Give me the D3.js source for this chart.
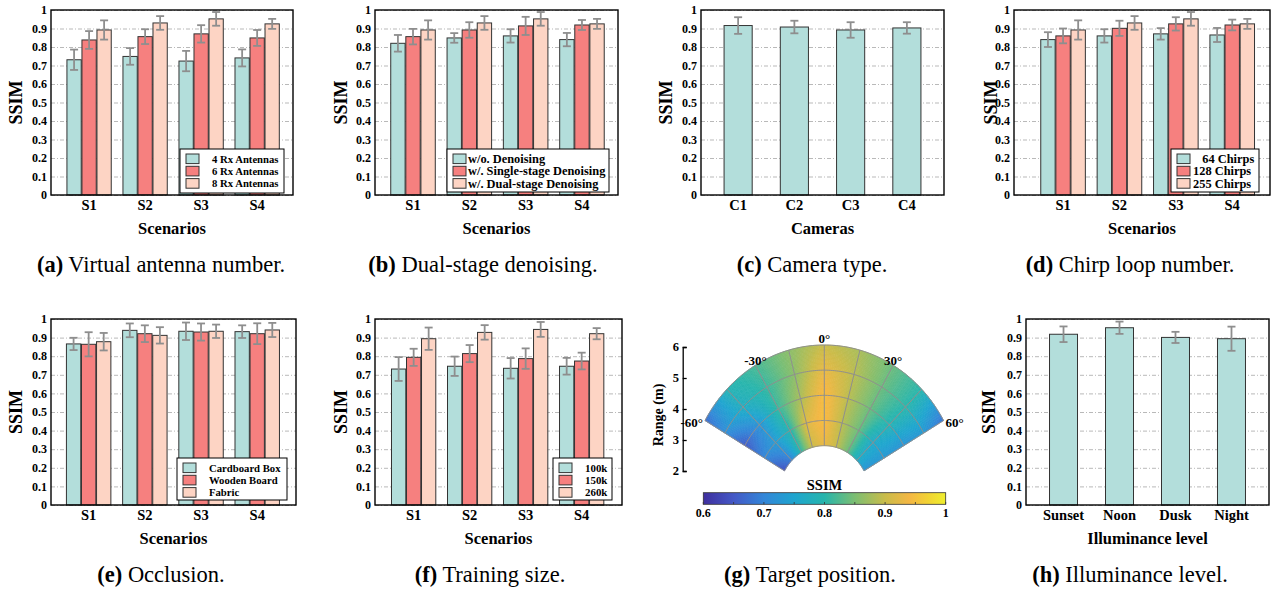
<!DOCTYPE html>
<html>
<head>
<meta charset="utf-8">
<script src="https://cdn.jsdelivr.net/npm/d3@7"></script>
<style>
  body { margin: 0; background: #fff; }
  svg { display: block; }
  text { font-family: "Liberation Serif", "Times New Roman", serif; }
</style>
</head>
<body>
<svg id="fig" width="1275" height="591"></svg>
<script>
// Categories and ticks
const scenarios = ["S1", "S2", "S3", "S4"]
const cameras = ["C1", "C2", "C3", "C4"]
const illuminance = ["Sunset", "Noon", "Dusk", "Night"]
const yTicks = [0, 0.1, 0.2, 0.3, 0.4, 0.5, 0.6, 0.7, 0.8, 0.9, 1]

// (a) Virtual antenna number
const antennaLabels = ["4 Rx Antennas", "6 Rx Antennas", "8 Rx Antennas"]
const antennaMean = [[0.731, 0.749, 0.724, 0.741], [0.838, 0.856, 0.871, 0.849], [0.892, 0.930, 0.952, 0.925]]
const antennaErr = [[0.055, 0.045, 0.055, 0.046], [0.048, 0.040, 0.047, 0.043], [0.052, 0.037, 0.037, 0.027]]

// (b) Dual-stage denoising
const denoiseLabels = ["w/o. Denoising", "w/. Single-stage Denoising", "w/. Dual-stage Denoising"]
const denoiseMean = [[0.820, 0.849, 0.860, 0.840], [0.856, 0.892, 0.914, 0.919], [0.892, 0.930, 0.952, 0.925]]
const denoiseErr = [[0.045, 0.026, 0.036, 0.036], [0.042, 0.042, 0.049, 0.027], [0.052, 0.037, 0.037, 0.027]]

// (c) Camera type
const cameraMean = [0.916, 0.908, 0.892, 0.903]
const cameraErr = [0.045, 0.034, 0.042, 0.031]

// (d) Chirp loop number
const chirpLabels = ["   64 Chirps", "128 Chirps", "255 Chirps"]
const chirpMean = [[0.840, 0.860, 0.871, 0.865], [0.860, 0.901, 0.925, 0.919], [0.892, 0.930, 0.952, 0.925]]
const chirpErr = [[0.040, 0.036, 0.031, 0.038], [0.040, 0.041, 0.036, 0.029], [0.052, 0.037, 0.037, 0.027]]

// (e) Occlusion
const occlusionLabels = ["Cardboard Box", "Wooden Board", "Fabric"]
const occlusionMean = [[0.866, 0.939, 0.934, 0.932], [0.864, 0.921, 0.930, 0.921], [0.878, 0.912, 0.934, 0.941]]
const occlusionErr = [[0.033, 0.037, 0.047, 0.034], [0.065, 0.045, 0.046, 0.056], [0.047, 0.044, 0.036, 0.038]]

// (f) Training size
const trainLabels = ["100k", "150k", "260k"]
const trainMean = [[0.731, 0.746, 0.735, 0.746], [0.794, 0.814, 0.787, 0.774], [0.894, 0.928, 0.944, 0.921]]
const trainErr = [[0.064, 0.052, 0.055, 0.045], [0.046, 0.046, 0.055, 0.045], [0.060, 0.039, 0.040, 0.030]]

// (g) Target position: SSIM per range (rows) and angle (columns)
const fanAngles = [-60, -45, -30, -15, 0, 15, 30, 45, 60]
const fanRanges = [2, 3, 4, 5, 6]
const fanSSIM = [
  [0.64, 0.69, 0.80, 0.90, 0.93, 0.90, 0.84, 0.77, 0.72],
  [0.70, 0.73, 0.79, 0.92, 0.95, 0.89, 0.84, 0.76, 0.73],
  [0.65, 0.72, 0.81, 0.88, 0.95, 0.89, 0.84, 0.79, 0.72],
  [0.71, 0.77, 0.81, 0.86, 0.93, 0.89, 0.84, 0.80, 0.73],
  [0.67, 0.79, 0.82, 0.86, 0.90, 0.88, 0.84, 0.80, 0.68],
]
const rangeTicks = [2, 3, 4, 5, 6]
const angleLabels = [-60, -30, 0, 30, 60]
const colorbarTicks = [0.6, 0.65, 0.7, 0.75, 0.8, 0.85, 0.9, 0.95, 1]

// (h) Illuminance level
const illumMean = [0.918, 0.953, 0.901, 0.894]
const illumErr = [0.042, 0.033, 0.030, 0.065]

// Captions
const captions = [
  ["(a)", "Virtual antenna number."], ["(b)", "Dual-stage denoising."], ["(c)", "Camera type."], ["(d)", "Chirp loop number."],
  ["(e)", "Occlusion."], ["(f)", "Training size."], ["(g)", "Target position."], ["(h)", "Illuminance level."],
]

// Styles
const barColors = ["#b3dedb", "#f6807f", "#fdd4c4"]
const errColor = "#8e8e8e"
const gridColor = "#b9b9b9"
const parulaStops = [0.6, 0.65, 0.7, 0.75, 0.8, 0.85, 0.9, 0.94, 0.97, 1]
const parulaColors = ["#3f2f9e", "#4458c6", "#3386d8", "#1ea5cf", "#27b5ac", "#7cbe72", "#c9bc4a", "#f4b744", "#f2d234", "#eeee2e"]

const svg = d3.select("#fig")

/** Draws one bar panel. */
function barPanel(p) {
  const x = d3.scaleLinear().domain([p.xlo, p.xhi]).range([p.left, p.right])
  const y = d3.scaleLinear().domain([0, 1]).range([p.bottom, p.top])
  const g = svg.append("g")

  // Grid lines
  g.append("g")
    .attr("transform", `translate(${p.left},0)`)
    .call(d3.axisLeft(y).tickValues(yTicks).tickSize(-(p.right - p.left)).tickFormat(""))
    .call(s => s.select(".domain").remove())
    .call(s => s.selectAll(".tick line").attr("stroke", gridColor).attr("stroke-dasharray", "4,2,1,2"))

  // Bars and error bars
  const n = p.means.length
  const bw = x(1 + p.bw) - x(1)
  p.means.forEach((series, j) => {
    const off = (j - (n - 1) / 2) * p.step
    const cx = i => x(i + 1 + off)
    g.append("g").selectAll("rect").data(series).join("rect")
      .attr("x", (d, i) => cx(i) - bw / 2)
      .attr("y", d => y(d))
      .attr("width", bw)
      .attr("height", d => y(0) - y(d))
      .attr("fill", barColors[j])
      .attr("stroke", "#333")
      .attr("stroke-width", 1)
    const e = p.errs[j]
    const eg = g.append("g").attr("stroke", errColor).attr("stroke-width", 1.8)
    series.forEach((d, i) => {
      const c = cx(i)
      eg.append("line").attr("x1", c).attr("x2", c).attr("y1", y(d - e[i])).attr("y2", y(d + e[i]))
      eg.append("line").attr("x1", c - 4).attr("x2", c + 4).attr("y1", y(d - e[i])).attr("y2", y(d - e[i]))
      eg.append("line").attr("x1", c - 4).attr("x2", c + 4).attr("y1", y(d + e[i])).attr("y2", y(d + e[i]))
    })
  })

  // Box
  g.append("rect")
    .attr("x", p.left).attr("y", p.top)
    .attr("width", p.right - p.left).attr("height", p.bottom - p.top)
    .attr("fill", "none").attr("stroke", "#000").attr("stroke-width", 1.4)

  // Y tick labels
  g.append("g").selectAll("text").data(yTicks).join("text")
    .attr("x", p.left - 4)
    .attr("y", d => y(d))
    .attr("dy", "0.35em")
    .attr("text-anchor", "end")
    .attr("font-weight", "bold")
    .attr("font-size", 12)
    .text(d => d3.format("")(d))

  // X tick labels
  g.append("g").selectAll("text").data(p.cats).join("text")
    .attr("x", (d, i) => x(i + 1))
    .attr("y", p.bottom + 15)
    .attr("text-anchor", "middle")
    .attr("font-weight", "bold")
    .attr("font-size", 14.5)
    .text(d => d)

  // Axis titles
  g.append("text")
    .attr("x", (p.left + p.right) / 2)
    .attr("y", p.bottom + 39)
    .attr("text-anchor", "middle")
    .attr("font-weight", "bold")
    .attr("font-size", 16.5)
    .text(p.xlabel)
  g.append("text")
    .attr("transform", `translate(${p.ylabX},${(p.top + p.bottom) / 2}) rotate(-90)`)
    .attr("text-anchor", "middle")
    .attr("font-weight", "bold")
    .attr("font-size", 18)
    .text("SSIM")

  // Legend
  if (p.legend) {
    const L = p.legend
    const lg = g.append("g")
    lg.append("rect")
      .attr("x", L.x).attr("y", L.y).attr("width", L.w).attr("height", L.h)
      .attr("fill", "#fff").attr("stroke", "#000").attr("stroke-width", 1)
    p.labels.forEach((name, j) => {
      const cy = L.y + 9.8 + j * 12.3
      lg.append("rect")
        .attr("x", L.x + 6).attr("y", cy - 4.8).attr("width", 13).attr("height", 9.6)
        .attr("fill", barColors[j]).attr("stroke", "#333").attr("stroke-width", 1)
      lg.append("text")
        .attr("x", L.x + L.tx).attr("y", cy)
        .attr("dy", "0.35em")
        .attr("font-weight", "bold")
        .attr("font-size", L.fs)
        .style("white-space", "pre")
        .text(name)
    })
  }
}

const grouped = { bw: 0.255, step: 0.268 }
const single = { bw: 0.5, step: 0 }

barPanel({ ...grouped, left: 51, right: 293, top: 10, bottom: 195, xlo: 0.32, xhi: 4.64, ylabX: 22,
  cats: scenarios, means: antennaMean, errs: antennaErr, labels: antennaLabels, xlabel: "Scenarios",
  legend: { x: 180, y: 149, w: 104, h: 44, tx: 32, fs: 10.7 } })
barPanel({ ...grouped, left: 375, right: 618, top: 10, bottom: 195, xlo: 0.325, xhi: 4.64, ylabX: 347,
  cats: scenarios, means: denoiseMean, errs: denoiseErr, labels: denoiseLabels, xlabel: "Scenarios",
  legend: { x: 447, y: 149, w: 162, h: 43, tx: 21, fs: 12.4 } })
barPanel({ ...single, left: 701, right: 944, top: 10, bottom: 195, xlo: 0.34, xhi: 4.66, ylabX: 672,
  cats: cameras, means: [cameraMean], errs: [cameraErr], xlabel: "Cameras" })
barPanel({ ...grouped, left: 1014, right: 1270, top: 10, bottom: 195, xlo: 0.13, xhi: 4.67, ylabX: 997,
  cats: scenarios, means: chirpMean, errs: chirpErr, labels: chirpLabels, xlabel: "Scenarios",
  legend: { x: 1171, y: 149, w: 88, h: 43, tx: 22, fs: 12.4 } })
barPanel({ ...grouped, left: 51, right: 296, top: 319, bottom: 505, xlo: 0.33, xhi: 4.69, ylabX: 22,
  cats: scenarios, means: occlusionMean, errs: occlusionErr, labels: occlusionLabels, xlabel: "Scenarios",
  legend: { x: 177, y: 458, w: 110, h: 42, tx: 32, fs: 10.7 } })
barPanel({ ...grouped, left: 375, right: 622, top: 319, bottom: 505, xlo: 0.31, xhi: 4.72, ylabX: 347,
  cats: scenarios, means: trainMean, errs: trainErr, labels: trainLabels, xlabel: "Scenarios",
  legend: { x: 553, y: 458, w: 59, h: 42, tx: 32, fs: 10.9 } })
barPanel({ ...single, left: 1026, right: 1269, top: 319, bottom: 505, xlo: 0.33, xhi: 4.67, ylabX: 995,
  cats: illuminance, means: [illumMean], errs: [illumErr], xlabel: "Illuminance level" })

// (g) Polar heat map
const fan = { cx: 824.3, cy: 496, sx: 0.912 }
const rScale = d3.scaleLinear().domain([0, 6]).range([0, 151])
const color = d3.scaleLinear().domain(parulaStops).range(parulaColors).clamp(true)
const pt = (deg, r) => {
  const a = deg * Math.PI / 180
  return [fan.cx + rScale(r) * Math.sin(a) * fan.sx, fan.cy - rScale(r) * Math.cos(a)]
}
function ssimAt(deg, r) {
  const i = Math.min(fanAngles.length - 2, Math.max(0, d3.bisectRight(fanAngles, deg) - 1))
  const k = Math.min(fanRanges.length - 2, Math.max(0, d3.bisectRight(fanRanges, r) - 1))
  const u = (deg - fanAngles[i]) / (fanAngles[i + 1] - fanAngles[i])
  const v = (r - fanRanges[k]) / (fanRanges[k + 1] - fanRanges[k])
  const a = fanSSIM[k][i] * (1 - u) + fanSSIM[k][i + 1] * u
  const b = fanSSIM[k + 1][i] * (1 - u) + fanSSIM[k + 1][i + 1] * u
  return a * (1 - v) + b * v
}
const cells = []
for (let deg = -60; deg < 60; deg += 1)
  for (let r = 2; r < 6 - 1e-9; r += 0.05)
    cells.push({ deg, r })
const gg = svg.append("g")
gg.append("g").selectAll("path").data(cells).join("path")
  .attr("d", d => d3.line()([pt(d.deg, d.r), pt(d.deg + 1, d.r), pt(d.deg + 1, d.r + 0.05), pt(d.deg, d.r + 0.05)]) + "Z")
  .attr("fill", d => color(ssimAt(d.deg + 0.5, d.r + 0.025)))
  .attr("stroke", d => color(ssimAt(d.deg + 0.5, d.r + 0.025)))
  .attr("stroke-width", 0.6)

// Fan grid
const arcLine = d3.line()
const grid = gg.append("g").attr("fill", "none").attr("stroke", "#8f8f8f").attr("stroke-width", 1)
rangeTicks.forEach(r => grid.append("path").attr("d", arcLine(d3.range(-60, 60.5, 1).map(a => pt(a, r)))))
d3.range(-60, 61, 15).forEach(a => grid.append("path").attr("d", arcLine([pt(a, 2), pt(a, 6)])))

// Angle labels
gg.append("g").selectAll("text").data(angleLabels).join("text")
  .attr("x", d => Math.abs(d) === 60 ? pt(d, 6)[0] + (d < 0 ? -2 : 2) : pt(d, 6)[0])
  .attr("y", d => Math.abs(d) === 60 ? pt(d, 6)[1] + 6 : pt(d, 6)[1] - (d === 0 ? 2 : 0))
  .attr("text-anchor", d => d === -60 ? "end" : d === 60 ? "start" : "middle")
  .attr("font-weight", "bold")
  .attr("font-size", 13)
  .text(d => `${d}°`)

// Range axis
const ry = d3.scaleLinear().domain([2, 6]).range([471, 347])
gg.append("g")
  .attr("transform", "translate(682.7,0)")
  .call(d3.axisRight(ry).tickValues(rangeTicks).tickSize(4).tickFormat(""))
  .call(s => s.selectAll(".domain, .tick line").attr("stroke", "#000").attr("stroke-width", 1.3))
gg.append("g").selectAll("text").data(rangeTicks).join("text")
  .attr("x", 679).attr("y", d => ry(d)).attr("dy", "0.35em")
  .attr("text-anchor", "end").attr("font-weight", "bold").attr("font-size", 12.5)
  .text(d => d)
gg.append("text")
  .attr("transform", "translate(663,415) rotate(-90)")
  .attr("text-anchor", "middle").attr("font-weight", "bold").attr("font-size", 14)
  .text("Range (m)")

// Colorbar
const cbx = d3.scaleLinear().domain([0.6, 1]).range([703.3, 945.7])
const grad = svg.append("defs").append("linearGradient").attr("id", "parula")
grad.selectAll("stop").data(parulaStops).join("stop")
  .attr("offset", d => `${(d - 0.6) / 0.4 * 100}%`)
  .attr("stop-color", d => color(d))
gg.append("rect")
  .attr("x", cbx(0.6)).attr("y", 492.7).attr("width", cbx(1) - cbx(0.6)).attr("height", 11.6)
  .attr("fill", "url(#parula)").attr("stroke", "#333").attr("stroke-width", 0.8)
gg.append("g").selectAll("line").data(colorbarTicks).join("line")
  .attr("x1", d => cbx(d)).attr("x2", d => cbx(d)).attr("y1", 504.3).attr("y2", 502)
  .attr("stroke", "#333").attr("stroke-width", 0.8)
gg.append("g").selectAll("text").data(colorbarTicks.filter(d => Math.abs(d * 10 - Math.round(d * 10)) < 1e-6)).join("text")
  .attr("x", d => cbx(d)).attr("y", 517)
  .attr("text-anchor", "middle").attr("font-weight", "bold").attr("font-size", 12)
  .text(d => d)
gg.append("text")
  .attr("x", 824.5).attr("y", 489.5)
  .attr("text-anchor", "middle").attr("font-weight", "bold").attr("font-size", 14.5)
  .text("SSIM")

// Captions
const capX = [161, 483, 812, 1130, 161, 490, 810, 1130]
svg.append("g").selectAll("text").data(captions).join("text")
  .attr("x", (d, i) => capX[i])
  .attr("y", (d, i) => i < 4 ? 272 : 582)
  .attr("text-anchor", "middle")
  .attr("font-size", 22.5)
  .each(function (d) {
    d3.select(this).append("tspan").attr("font-weight", "bold").text(d[0])
    d3.select(this).append("tspan").text(" " + d[1])
  })
</script>
</body>
</html>
